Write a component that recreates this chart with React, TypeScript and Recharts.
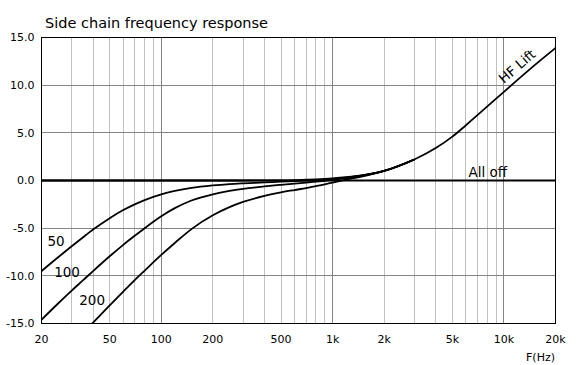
import {
  CartesianGrid,
  Line,
  LineChart,
  ReferenceArea,
  ReferenceDot,
  XAxis,
  YAxis,
} from "recharts";

const FONT = "'DejaVu Sans', Verdana, sans-serif";
const MINOR_STROKE = "#c0c0c0";
const MAJOR_STROKE = "#848484";

// frequency points (Hz)
const FREQS = [
  20, 25, 30, 35, 40, 50, 60, 70, 80, 100, 120, 150, 200, 250, 300, 400, 500,
  600, 700, 800, 1000, 1200, 1500, 2000, 3000, 4000, 5000, 6000, 7000, 8000,
  10000, 12000, 15000, 20000,
];

// dB values, one per frequency
const ALL_OFF = [
  0, 0, 0, 0, 0, 0, 0, 0, 0, 0, 0, 0, 0, 0, 0, 0, 0, 0, 0, 0, 0, 0, 0, 0, 0,
  0, 0, 0, 0, 0, 0, 0, 0, 0,
];
const HF_LIFT = [
  0, 0, 0, 0, 0, 0, 0, 0, 0, 0, 0, 0, 0, 0, 0, 0.01, 0.02, 0.04, 0.08, 0.12,
  0.22, 0.34, 0.55, 1.0, 2.2, 3.4, 4.6, 5.8, 6.85, 7.78, 9.3, 10.55, 12.05,
  13.9,
];
const HPF_50 = [
  -9.5, -8.05, -6.9, -5.95, -5.15, -3.95, -3.1, -2.5, -2.05, -1.45, -1.1,
  -0.78, -0.52, -0.38, -0.3, -0.2, -0.12, -0.07, -0.02, 0.03, 0.17, 0.3, 0.53,
  1.0, 2.2, null, null, null, null, null, null, null, null, null,
];
const HPF_100 = [
  -14.6, -12.9, -11.55, -10.45, -9.5, -7.95, -6.75, -5.8, -5.0, -3.75, -2.9,
  -2.1, -1.45, -1.1, -0.88, -0.62, -0.45, -0.32, -0.22, -0.12, 0.08, 0.26, 0.5,
  1.0, 2.2, null, null, null, null, null, null, null, null, null,
];
const HPF_200 = [
  null, null, null, -16.0, -14.9, -13.1, -11.65, -10.45, -9.45, -7.8, -6.55,
  -5.1, -3.65, -2.8, -2.25, -1.62, -1.25, -1.0, -0.8, -0.6, -0.22, 0.1, 0.44,
  1.0, 2.2, null, null, null, null, null, null, null, null, null,
];

const X_TICKS = [20, 50, 100, 200, 500, 1000, 2000, 5000, 10000, 20000];
const X_TICK_LABELS = ["20", "50", "100", "200", "500", "1k", "2k", "5k", "10k", "20k"];
const Y_TICKS = [-15, -10, -5, 0, 5, 10, 15];

const MINOR_GRID = [
  30, 40, 50, 60, 70, 80, 90, 200, 300, 400, 500, 600, 700, 800, 900, 2000,
  3000, 4000, 5000, 6000, 7000, 8000, 9000,
];
const MAJOR_GRID = [100, 1000, 10000];
const H_GRID = [-10, -5, 0, 5, 10];

const CURVE_LABELS = [
  { text: "50", f: 24.3, db: -6.3, angle: 0 },
  { text: "100", f: 28.2, db: -9.55, angle: 0 },
  { text: "200", f: 39.5, db: -12.5, angle: 0 },
  { text: "All off", f: 8040, db: 0.85, angle: 0 },
  { text: "HF Lift", f: 11900, db: 12.0, angle: -41 },
];

const data = FREQS.map((f, i) => ({
  f,
  allOff: ALL_OFF[i],
  hf: HF_LIFT[i],
  hpf50: HPF_50[i],
  hpf100: HPF_100[i],
  hpf200: HPF_200[i],
}));

const SERIES = [
  { key: "allOff", width: 2.2 },
  { key: "hf", width: 1.8 },
  { key: "hpf50", width: 1.8 },
  { key: "hpf100", width: 1.8 },
  { key: "hpf200", width: 1.8 },
];

function curveLabel(text: string, angle: number) {
  return (props: any) => {
    const vb = props.viewBox || {};
    const cx = (vb.x ?? 0) + (vb.width ?? 0) / 2;
    const cy = (vb.y ?? 0) + (vb.height ?? 0) / 2;
    return (
      <text
        x={cx}
        y={cy}
        textAnchor="middle"
        dominantBaseline="central"
        fontFamily={FONT}
        fontSize={13.5}
        fill="#000"
        transform={angle ? `rotate(${angle} ${cx} ${cy})` : undefined}
      >
        {text}
      </text>
    );
  };
}

export default function App() {
  return (
    <div style={{ position: "absolute", left: 0, top: 0, width: 580, height: 365, background: "#fff" }}>
      <div
        style={{
          position: "absolute",
          left: 45,
          top: 16,
          fontFamily: FONT,
          fontSize: 14.5,
          lineHeight: "14.5px",
          color: "#000",
          whiteSpace: "nowrap",
        }}
      >
        Side chain frequency response
      </div>
      <div
        style={{
          position: "absolute",
          right: 25,
          top: 351.5,
          fontFamily: FONT,
          fontSize: 11,
          lineHeight: "11px",
          color: "#000",
        }}
      >
        F(Hz)
      </div>
      <LineChart
        width={580}
        height={365}
        data={data}
        margin={{ top: 37.5, right: 24.5, bottom: 11.5, left: 0 }}
      >
        <CartesianGrid
          horizontal={false}
          verticalValues={MINOR_GRID}
          stroke={MINOR_STROKE}
          strokeWidth={1}
          shapeRendering="crispEdges"
        />
        <CartesianGrid
          verticalValues={MAJOR_GRID}
          horizontalValues={H_GRID}
          stroke={MAJOR_STROKE}
          strokeWidth={1}
          shapeRendering="crispEdges"
        />
        <XAxis
          dataKey="f"
          type="number"
          scale="log"
          domain={[20, 20000]}
          allowDataOverflow
          ticks={X_TICKS}
          tickFormatter={(v: number) => X_TICK_LABELS[X_TICKS.indexOf(v)] ?? String(v)}
          tick={{ fill: "#000", fontSize: 11, fontFamily: FONT }}
          axisLine={false}
          tickLine={false}
          tickSize={0}
          tickMargin={12}
          height={30}
          interval={0}
        />
        <YAxis
          type="number"
          domain={[-15, 15]}
          allowDataOverflow
          ticks={Y_TICKS}
          tickFormatter={(v: number) => v.toFixed(1)}
          tick={{ fill: "#000", fontSize: 11, fontFamily: FONT }}
          axisLine={false}
          tickLine={false}
          tickSize={0}
          tickMargin={7}
          width={41.5}
          interval={0}
        />
        <ReferenceArea
          x1={20}
          x2={20000}
          y1={-15}
          y2={15}
          fill="none"
          fillOpacity={0}
          stroke="#000"
          strokeWidth={1}
          shapeRendering="crispEdges"
        />
        {SERIES.map((s) => (
          <Line
            key={s.key}
            dataKey={s.key}
            type="monotone"
            stroke="#000"
            strokeWidth={s.width}
            dot={false}
            activeDot={false}
            isAnimationActive={false}
          />
        ))}
        {CURVE_LABELS.map((l) => (
          <ReferenceDot
            key={l.text}
            x={l.f}
            y={l.db}
            r={1}
            fill="none"
            stroke="none"
            label={{ content: curveLabel(l.text, l.angle) }}
          />
        ))}
      </LineChart>
    </div>
  );
}
